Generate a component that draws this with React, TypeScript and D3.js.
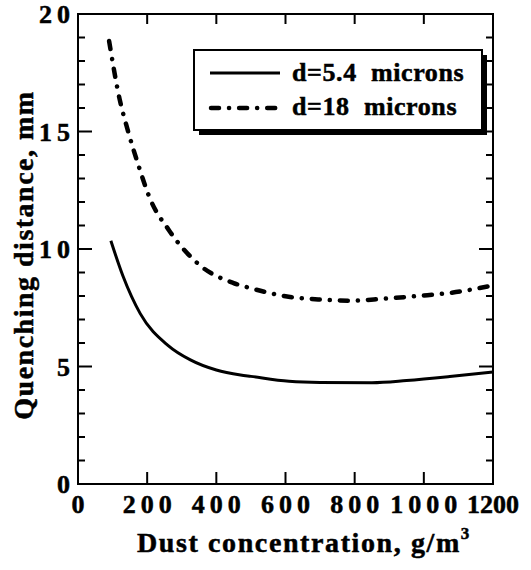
import React from "react";
import * as d3 from "d3";

// ---- data ----
const solidX = [95, 130, 180, 260, 325, 400, 470, 500, 610, 700, 850, 950, 1075, 1200];
const solidY = [10.35, 8.85, 7.25, 5.9, 5.28, 4.85, 4.64, 4.58, 4.37, 4.32, 4.31, 4.4, 4.57, 4.77];
const dashX = [90, 120, 145, 175, 208, 263, 353, 450, 500, 600, 700, 790, 880, 990, 1080, 1200];
const dashY = [18.85, 16.4, 15.0, 13.55, 12.15, 10.8, 9.3, 8.55, 8.33, 7.99, 7.85, 7.8, 7.88, 8.01, 8.14, 8.45];
const xTicks = [0, 200, 400, 600, 800, 1000, 1200];
const yMajor = [0, 5, 10, 15, 20];
const yMinor = d3.range(0, 21, 1);
const seriesLabels = ["d=5.4  microns", "d=18  microns"];
const xTitle = "Dust concentration, g/m";
const yTitle = "Quenching distance, mm";

const FONT = '"Liberation Serif", "DejaVu Serif", serif';
const tStyle: React.CSSProperties = {
  fontFamily: FONT,
  fontWeight: 700,
  whiteSpace: "pre",
  stroke: "#000",
  strokeWidth: 0.5,
};

export default function App() {
  const x = d3.scaleLinear().domain([0, 1200]).range([78, 493]);
  const y = d3.scaleLinear().domain([0, 20]).range([484, 14]);
  const line = d3
    .line<[number, number]>()
    .x((d) => x(d[0]))
    .y((d) => y(d[1]))
    .curve(d3.curveMonotoneX);
  const solid = line(solidX.map((v, i) => [v, solidY[i]]) as [number, number][]) || "";
  const dash = line(dashX.map((v, i) => [v, dashY[i]]) as [number, number][]) || "";
  const dashArr = "8 10 0.1 10";

  const [x0, x1] = x.range();
  const [yb, yt] = y.range();

  return (
    <svg
      width={531}
      height={570}
      style={{ position: "absolute", left: 0, top: 0, background: "#fff" }}
    >
      <rect x={0} y={0} width={531} height={570} fill="#fff" />
      {/* frame */}
      <rect x={x0} y={yt} width={x1 - x0} height={yb - yt} fill="none" stroke="#000" strokeWidth={2} />
      {/* y ticks left & right */}
      {yMinor.map((v) => {
        const major = v % 5 === 0;
        const len = major ? 14 : 7;
        return (
          <g key={"yt" + v}>
            <line x1={x0} x2={x0 + len} y1={y(v)} y2={y(v)} stroke="#000" strokeWidth={2} />
            <line x1={x1} x2={x1 - len} y1={y(v)} y2={y(v)} stroke="#000" strokeWidth={2} />
          </g>
        );
      })}
      {/* x ticks bottom & top */}
      {xTicks.map((v) => (
        <g key={"xt" + v}>
          <line x1={x(v)} x2={x(v)} y1={yb} y2={yb - 12} stroke="#000" strokeWidth={2} />
          <line x1={x(v)} x2={x(v)} y1={yt} y2={yt + 10} stroke="#000" strokeWidth={2} />
        </g>
      ))}
      {/* y tick labels */}
      {yMajor.map((v) => (
        <text
          key={"yl" + v}
          x={70}
          dx={5}
          y={y(v)}
          dy="0.35em"
          textAnchor="end"
          fontSize={26}
          letterSpacing={5}
          style={tStyle}
        >
          {String(v)}
        </text>
      ))}
      {/* x tick labels */}
      {xTicks.map((v, i) => {
        const ls = i === xTicks.length - 1 ? 0 : 5;
        return (
          <text
            key={"xl" + v}
            x={x(v)}
            dx={ls / 2}
            y={513}
            textAnchor="middle"
            fontSize={26}
            letterSpacing={ls}
            style={tStyle}
          >
            {String(v)}
          </text>
        );
      })}
      {/* axis titles */}
      <text x={304} y={552} textAnchor="middle" fontSize={28} letterSpacing={1.6} style={tStyle}>
        {xTitle}
        <tspan dy={-13} fontSize={17}>3</tspan>
      </text>
      <text
        transform={`translate(33,255) rotate(-90)`}
        textAnchor="middle"
        fontSize={28}
        letterSpacing={1.5}
        style={tStyle}
      >
        {yTitle}
      </text>
      {/* curves */}
      <path d={solid} fill="none" stroke="#000" strokeWidth={3} />
      <path
        d={dash}
        fill="none"
        stroke="#000"
        strokeWidth={4.5}
        strokeLinecap="round"
        strokeDasharray={dashArr}
      />
      {/* legend */}
      <rect x={199} y={55} width={288} height={80} fill="#000" />
      <rect x={194} y={50} width={288} height={80} fill="#fff" stroke="#000" strokeWidth={2} />
      <line x1={210} x2={280} y1={73} y2={73} stroke="#000" strokeWidth={3} />
      <line
        x1={211}
        x2={282}
        y1={108}
        y2={108}
        stroke="#000"
        strokeWidth={4.5}
        strokeLinecap="round"
        strokeDasharray={dashArr}
      />
      <text x={292} y={81} fontSize={26} letterSpacing={0.6} style={tStyle}>
        {seriesLabels[0]}
      </text>
      <text x={292} y={115} fontSize={26} letterSpacing={0.6} style={tStyle}>
        {seriesLabels[1]}
      </text>
    </svg>
  );
}
